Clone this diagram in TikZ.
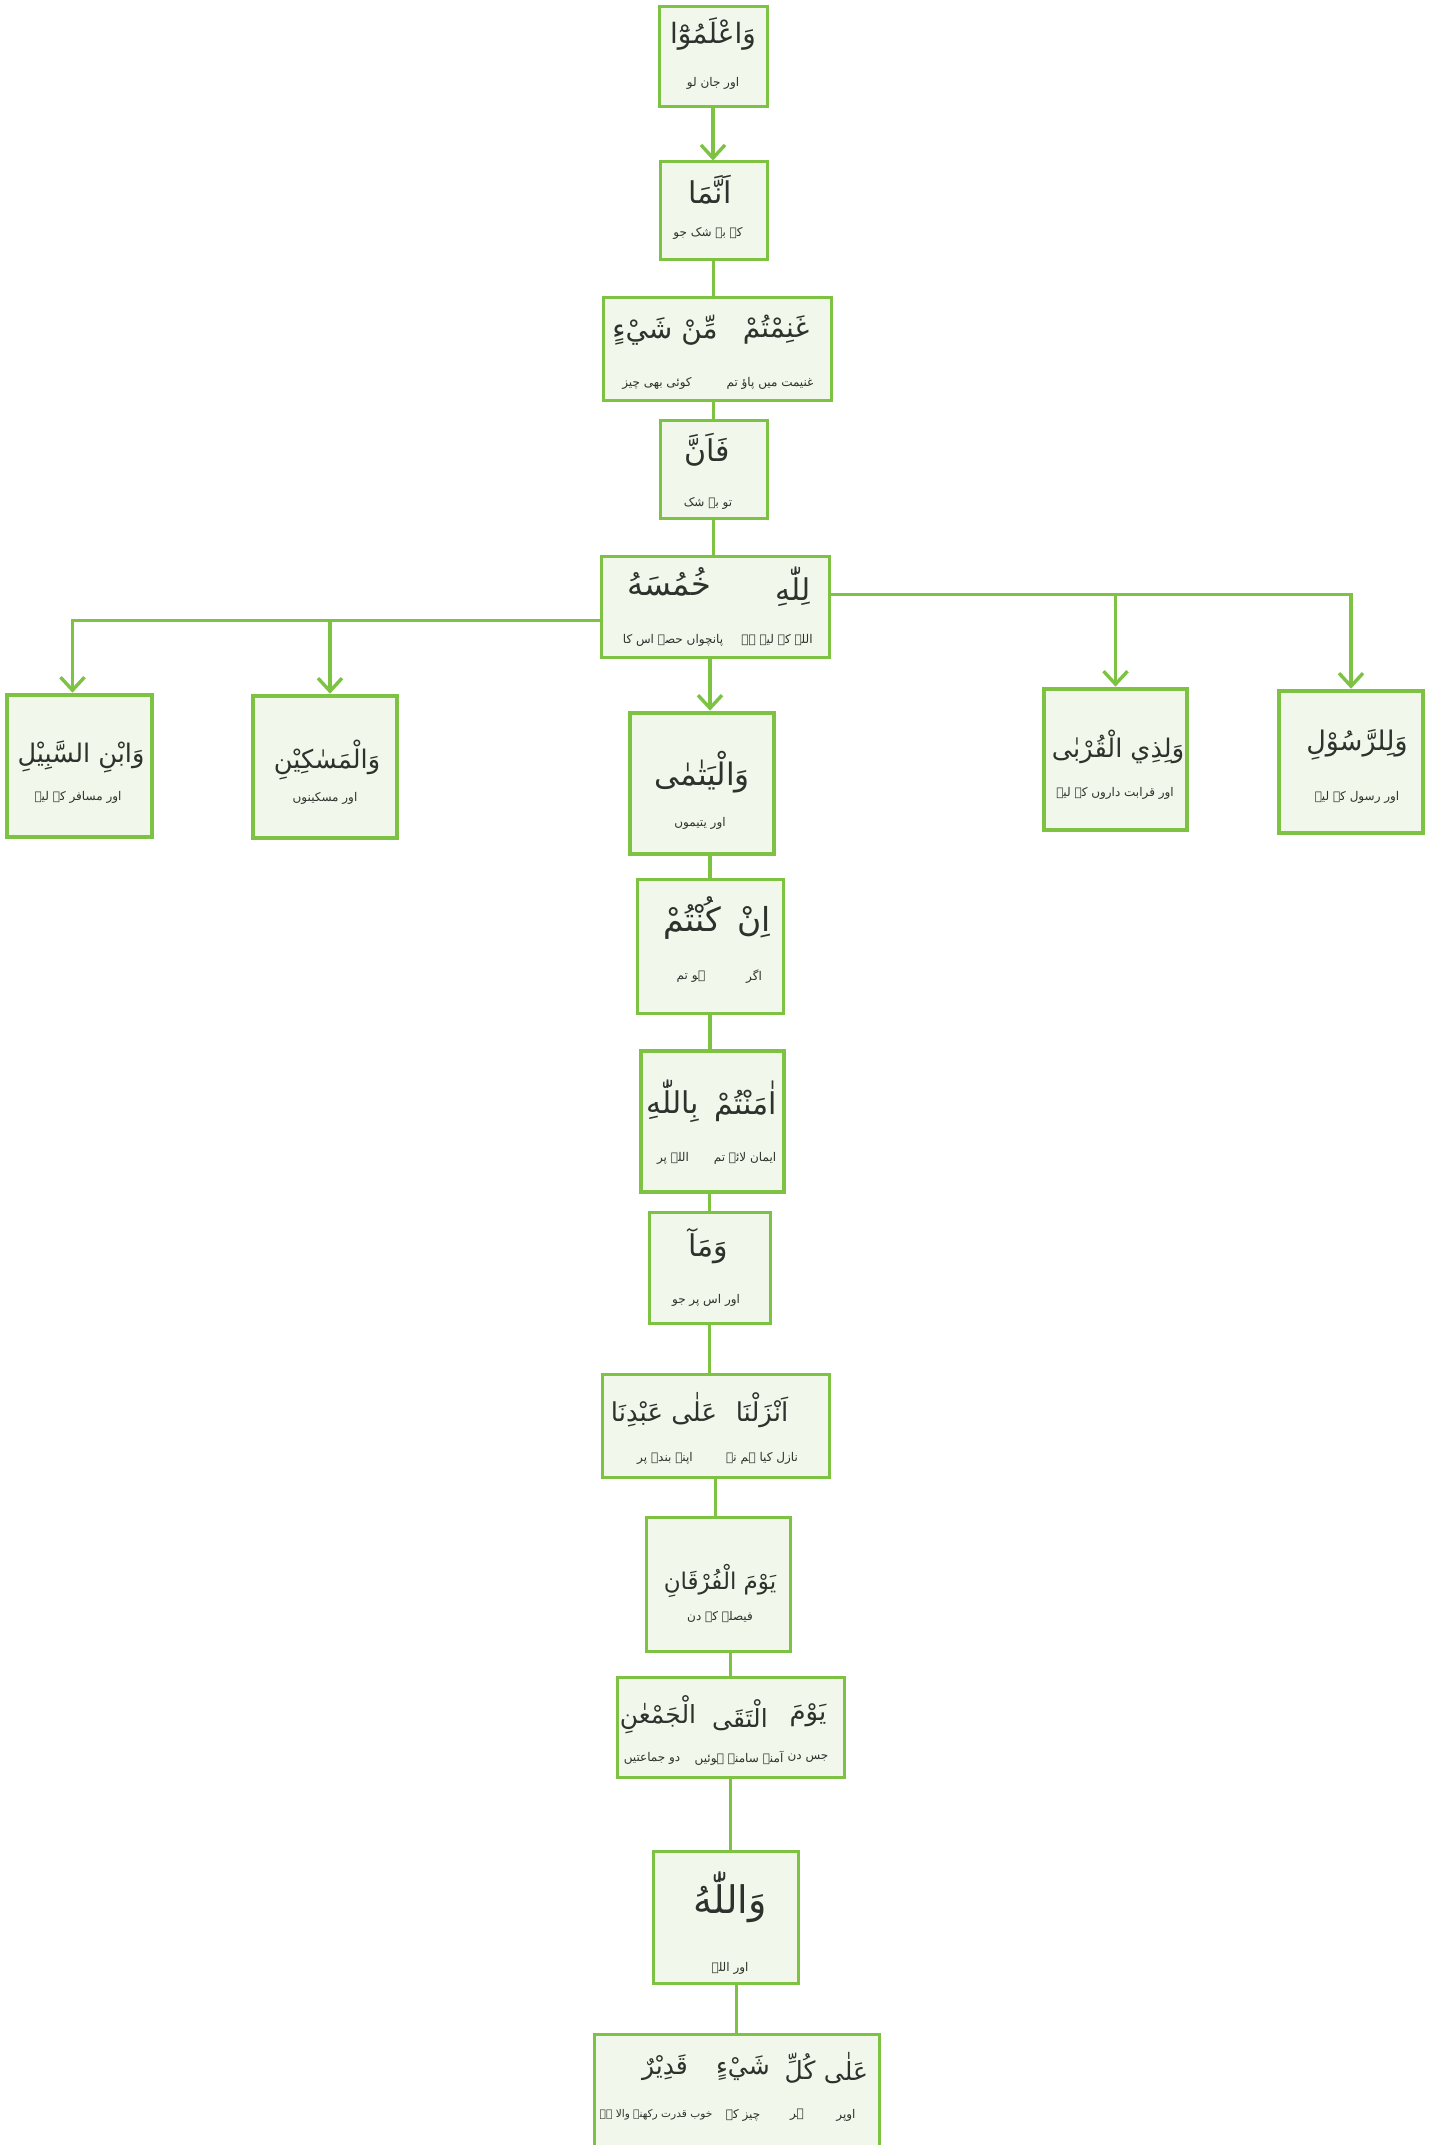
\documentclass[tikz,border=0pt]{standalone}
\usepackage{fontspec}
\usetikzlibrary{arrows.meta}
\TeXXeTstate=1
\newfontfamily\arabicfont[Script=Arabic]{DejaVu Sans}
\definecolor{lineGreen}{RGB}{125,194,66}
\definecolor{boxFill}{RGB}{241,247,234}
\definecolor{inkGray}{RGB}{45,50,45}

\tikzset{
  wordbox/.style={draw=lineGreen, fill=boxFill, line width=1.5pt, inner sep=0pt},
  bigbox/.style={wordbox, line width=2.3pt},
  ar/.style={font=\arabicfont\fontsize{#1}{#1}\selectfont, text=inkGray, inner sep=0pt},
  ar/.default=14,
  ur/.style={font=\arabicfont\fontsize{#1}{#1}\selectfont, text=inkGray, inner sep=0pt},
  ur/.default=6,
  flow/.style={draw=lineGreen, line width=1.7pt},
  flowarrow/.style={flow, -{Straight Barb[length=6.5pt,width=12pt]}},
}

\begin{document}
\begin{tikzpicture}[x=0.5pt, y=-0.5pt]
      \useasboundingbox (0,0) rectangle (1439,2145);

      % Boxes down the middle
      \node[wordbox, minimum width=54pt, minimum height=50pt] (waalamu) at (713,57) {};
      \node[wordbox, minimum width=53.5pt, minimum height=49pt] (annama) at (713.5,211) {};
      \node[wordbox, minimum width=114pt, minimum height=51pt] (ghanimtum) at (717,349) {};
      \node[wordbox, minimum width=53.5pt, minimum height=49pt] (faanna) at (713.5,469) {};
      \node[wordbox, minimum width=114pt, minimum height=50.5pt] (lillah) at (715,606.5) {};

      % The five shares
      \node[bigbox, minimum width=72pt, minimum height=71pt] (lirrasul) at (1351,762) {};
      \node[bigbox, minimum width=71.5pt, minimum height=70.5pt] (dhilqurba) at (1115.5,759.5) {};
      \node[bigbox, minimum width=72pt, minimum height=70.5pt] (yatama) at (702,783.5) {};
      \node[bigbox, minimum width=72pt, minimum height=71pt] (masakin) at (325,767) {};
      \node[bigbox, minimum width=72.5pt, minimum height=71pt] (ibnsabil) at (79.5,766) {};

      \node[wordbox, minimum width=73pt, minimum height=67pt] (inkuntum) at (710,946) {};
      \node[bigbox, minimum width=71.5pt, minimum height=70.5pt] (amantum) at (712.5,1121.5) {};
      \node[wordbox, minimum width=60.5pt, minimum height=55.5pt] (wama) at (709.5,1267.5) {};
      \node[wordbox, minimum width=113.5pt, minimum height=51.5pt] (anzalna) at (715.5,1425.5) {};
      \node[wordbox, minimum width=72pt, minimum height=67pt] (furqan) at (718,1584) {};
      \node[wordbox, minimum width=113.5pt, minimum height=50pt] (iltaqa) at (730.5,1727) {};
      \node[wordbox, minimum width=72.5pt, minimum height=66pt] (wallahu) at (725.5,1917) {};
      \node[wordbox, minimum width=142.5pt, minimum height=66pt] (alakulli) at (736.5,2100) {};

      % Words and their meaning
      \node[ar] (waalamuAr) at (713,34) {\beginR وَاعْلَمُوْٓا\endR};
      \node[ur] (waalamuUr) at (713,83) {\beginR اور جان لو\endR};
      \node[ar=15] (annamaAr) at (710,190) {\beginR اَنَّمَا\endR};
      \node[ur] (annamaUr) at (708,233) {\beginR کہ بے شک جو\endR};
      \node[ar] (ghanimtumAr) at (776,330) {\beginR غَنِمْتُمْ\endR};
      \node[ar] (minshayinAr) at (665,330) {\beginR مِّنْ شَيْءٍ\endR};
      \node[ur] (ghanimtumUr) at (770,383) {\beginR غنیمت میں پاؤ تم\endR};
      \node[ur] (minshayinUr) at (657,383) {\beginR کوئی بھی چیز\endR};
      \node[ar=15] (faannaAr) at (707,450) {\beginR فَاَنَّ\endR};
      \node[ur] (faannaUr) at (708,503) {\beginR تو بے شک\endR};
      \node[ar=15] (lillahAr) at (793,587) {\beginR لِلّٰهِ\endR};
      \node[ar=16] (khumusahuAr) at (669,582) {\beginR خُمُسَهُ\endR};
      \node[ur] (lillahUr) at (777,640) {\beginR اللہ کے لیے ہے\endR};
      \node[ur] (khumusahuUr) at (673,640) {\beginR پانچواں حصہ اس کا\endR};

      \node[ar=13.5] (lirrasulAr) at (1357,745) {\beginR وَلِلرَّسُوْلِ\endR};
      \node[ur] (lirrasulUr) at (1357,797) {\beginR اور رسول کے لیے\endR};
      \node[ar=12.8] (dhilqurbaAr) at (1118,747) {\beginR وَلِذِي الْقُرْبٰى\endR};
      \node[ur] (dhilqurbaUr) at (1115,793) {\beginR اور قرابت داروں کے لیے\endR};
      \node[ar=15.5] (yatamaAr) at (702,772) {\beginR وَالْيَتٰمٰى\endR};
      \node[ur] (yatamaUr) at (700,823) {\beginR اور یتیموں\endR};
      \node[ar=12.8] (masakinAr) at (327,760) {\beginR وَالْمَسٰكِيْنِ\endR};
      \node[ur] (masakinUr) at (325,798) {\beginR اور مسکینوں\endR};
      \node[ar=12.8] (ibnsabilAr) at (81,757) {\beginR وَابْنِ السَّبِيْلِ\endR};
      \node[ur] (ibnsabilUr) at (78,797) {\beginR اور مسافر کے لیے\endR};

      \node[ar=16.5] (inAr) at (754,922) {\beginR اِنْ\endR};
      \node[ar=16.5] (kuntumAr) at (692,918) {\beginR كُنْتُمْ\endR};
      \node[ur] (inUr) at (754,977) {\beginR اگر\endR};
      \node[ur] (kuntumUr) at (691,977) {\beginR ہو تم\endR};
      \node[ar=15] (amantumAr) at (746,1101) {\beginR اٰمَنْتُمْ\endR};
      \node[ar=15] (billahiAr) at (673,1101) {\beginR بِاللّٰهِ\endR};
      \node[ur] (amantumUr) at (745,1158) {\beginR ایمان لائے تم\endR};
      \node[ur] (billahiUr) at (673,1158) {\beginR اللہ پر\endR};
      \node[ar=15] (wamaAr) at (708,1246) {\beginR وَمَآ\endR};
      \node[ur] (wamaUr) at (706,1300) {\beginR اور اس پر جو\endR};
      \node[ar=13] (anzalnaAr) at (762,1410) {\beginR اَنْزَلْنَا\endR};
      \node[ar=13] (abdinaAr) at (664,1410) {\beginR عَلٰى عَبْدِنَا\endR};
      \node[ur] (anzalnaUr) at (762,1458) {\beginR نازل کیا ہم نے\endR};
      \node[ur] (abdinaUr) at (665,1458) {\beginR اپنے بندے پر\endR};
      \node[ar=11.5] (furqanAr) at (720,1581) {\beginR يَوْمَ الْفُرْقَانِ\endR};
      \node[ur] (furqanUr) at (720,1617) {\beginR فیصلے کے دن\endR};
      \node[ar=13] (yawmaAr) at (808,1715) {\beginR يَوْمَ\endR};
      \node[ar=12.5] (iltaqaAr) at (740,1715) {\beginR الْتَقَى\endR};
      \node[ar=12.5] (jamanAr) at (658,1715) {\beginR الْجَمْعٰنِ\endR};
      \node[ur] (yawmaUr) at (808,1758) {\beginR جس دن\endR};
      \node[ur] (iltaqaUr) at (739,1758) {\beginR آمنے سامنے ہوئیں\endR};
      \node[ur] (jamanUr) at (652,1758) {\beginR دو جماعتیں\endR};
      \node[ar=19] (wallahuAr) at (730,1897) {\beginR وَاللّٰهُ\endR};
      \node[ur] (wallahuUr) at (730,1968) {\beginR اور اللہ\endR};
      \node[ar=12.5] (alaAr) at (846,2068) {\beginR عَلٰى\endR};
      \node[ar=12.5] (kulliAr) at (800,2068) {\beginR كُلِّ\endR};
      \node[ar=12.5] (shayinAr) at (743,2068) {\beginR شَيْءٍ\endR};
      \node[ar=12.5] (qadirunAr) at (665,2068) {\beginR قَدِيْرٌ\endR};
      \node[ur] (alaUr) at (846,2115) {\beginR اوپر\endR};
      \node[ur] (kulliUr) at (797,2115) {\beginR ہر\endR};
      \node[ur] (shayinUr) at (743,2115) {\beginR چیز کے\endR};
      \node[ur=5.3] (qadirunUr) at (656,2115) {\beginR خوب قدرت رکھنے والا ہے\endR};

      % Connectors
      \draw[flowarrow] (waalamu.south) -- (waalamu.south |- annama.north);
      \draw[flow] (annama.south) -- (annama.south |- ghanimtum.north);
      \draw[flow] (faanna.north |- ghanimtum.south) -- (faanna.north);
      \draw[flow] (faanna.south) -- (faanna.south |- lillah.north);
      \draw[flowarrow] ([yshift=6pt]lillah.east) -| (lirrasul.north);
      \draw[flowarrow] ([yshift=6pt]lillah.east) -| (dhilqurba.north);
      \draw[flowarrow] ([yshift=-7pt]lillah.west) -| ([xshift=-3.5pt]ibnsabil.north);
      \draw[flowarrow] ([yshift=-7pt]lillah.west) -| ([xshift=2.5pt]masakin.north);
      \draw[flowarrow] (lillah.south -| inkuntum.north) -- (yatama.north -| inkuntum.north);
      \draw[flow] (yatama.south -| inkuntum.north) -- (inkuntum.north);
      \draw[flow] (inkuntum.south) -- (inkuntum.south |- amantum.north);
      \draw[flow] (wama.north |- amantum.south) -- (wama.north);
      \draw[flow] (wama.south) -- (wama.south |- anzalna.north);
      \draw[flow] (anzalna.south) -- (anzalna.south |- furqan.north);
      \draw[flow] (iltaqa.north |- furqan.south) -- (iltaqa.north);
      \draw[flow] (iltaqa.south) -- (iltaqa.south |- wallahu.north);
      \draw[flow] (alakulli.north |- wallahu.south) -- (alakulli.north);
    \end{tikzpicture}
\end{document}
